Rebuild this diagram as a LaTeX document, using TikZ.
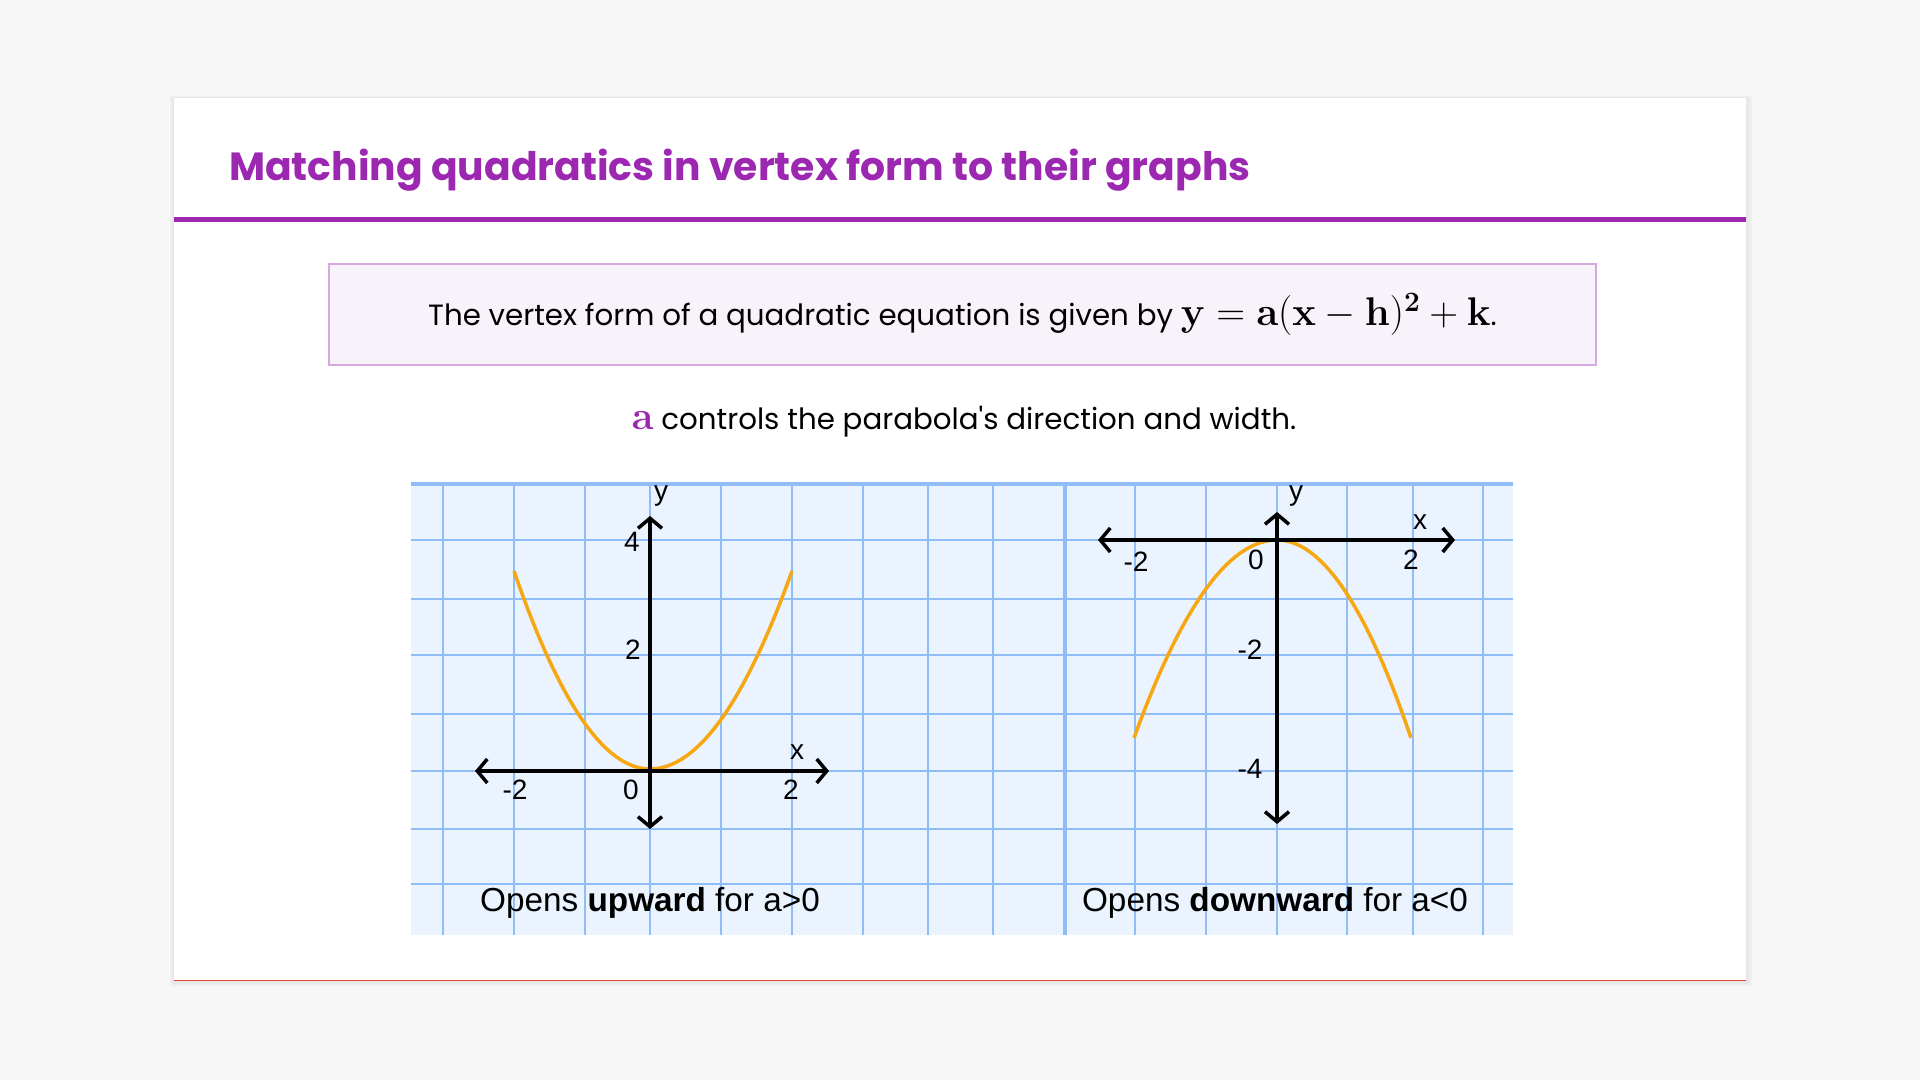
\RequirePackage{fix-cm}
\documentclass[tikz,border=0pt]{standalone}
\usepackage[no-math]{fontspec}
\usepackage[]{amsmath}
\usepackage[]{xcolor}
\usetikzlibrary{positioning}
\usetikzlibrary{arrows.meta}

\newfontfamily\popfont{Poppins}
\newfontfamily\graphfont{Liberation Sans}

\definecolor{pagegray}{HTML}{F7F7F7}
\definecolor{titlepurple}{HTML}{9C27B0}
\definecolor{boxfill}{HTML}{F8F3FA}
\definecolor{boxborder}{HTML}{D7A8E0}
\definecolor{gridfill}{HTML}{EAF3FE}
\definecolor{gridblue}{HTML}{90BDF5}
\definecolor{curveorange}{HTML}{F7A711}
\definecolor{cardred}{HTML}{E0483E}

\newcommand{\bigmath}[1]{{\fontsize{40}{44}\selectfont$#1$}}

\begin{document}
\begin{tikzpicture}[
        x=1pt, y=1pt,
        title/.style = {font=\popfont\bfseries\fontsize{39.3}{44}\selectfont, text=titlepurple, anchor=west, inner sep=0},
        body/.style = {font=\popfont\fontsize{29.3}{34}\selectfont, inner sep=0},
        vbox/.style = {body, draw=boxborder, fill=boxfill, line width=2.5pt, minimum width=1267pt, minimum height=101pt},
        gridline/.style = {draw=gridblue, line width=2.5pt},
        axis/.style = {line width=3.5pt, <->, >={Straight Barb[length=10pt,width=24pt]}},
        curve/.style = {draw=curveorange, line width=3.5pt},
        tick/.style = {font=\graphfont\fontsize{28}{30}\selectfont, inner sep=0},
        caption/.style = {font=\graphfont\fontsize{33.3}{36}\selectfont, inner sep=0}
    ]

        \useasboundingbox (0,0) rectangle (1920,1080);
        \fill[pagegray] (0,0) rectangle (1920,1080);

        % card
        \fill[black, opacity=0.03] (170,94) rectangle (1752,984);
        \fill[black, opacity=0.03] (172,96) rectangle (1749,983);
        \fill[white] (174,99) rectangle (1746,982);
        \draw[cardred, line width=1pt] (174,99.5) -- (1746,99.5);

        \node[title] (head) at (229,910) {Matching quadratics in vertex form to their graphs};
        \fill[titlepurple] (174,858) rectangle (1746,863);

        \node[vbox] (vform) at (962.5,765.5) {The vertex form of a quadratic equation is given by \bigmath{\mathbf{y}=\mathbf{a}(\mathbf{x}-\mathbf{h})^{\mathbf{2}}+\mathbf{k}}.};
        \node[body] (ctrl) at (964,658) {\bigmath{\color{titlepurple}\mathbf{a}} controls the parabola's direction and width.};

        % grid paper
        \fill[gridfill] (411,145) rectangle (1513,596);
        \foreach \gy in {540,481,425,366,309,251,196}
            \draw[gridline] (411,\gy) -- (1513,\gy);
        \foreach \gx in {443,514,585,650,721,792,863,928,993,1135,1206,1277,1347,1413,1483}
            \draw[gridline] (\gx,145) -- (\gx,596);
        \draw[gridline, line width=3.5pt] (1065,145) -- (1065,596);
        \draw[gridline, line width=4pt] (411,596) -- (1513,596);

        % upward graph
        \coordinate (xl1) at (475,309);
        \coordinate (xr1) at (829,309);
        \coordinate (yt1) at (650,564);
        \coordinate (yb1) at (650,251);
        \draw[curve] plot[domain=-1:1, samples=60] ({650+(\x<0 ? 136 : 142)*\x}, {311+198*\x*\x});
        \draw[axis] (xl1) -- (xr1);
        \draw[axis] (yb1) -- (yt1);
        \node[tick] (ylab1) at (661,584) {y};
        \node[tick] (xlab1) at (797,328) {x};
        \node[tick] (xm1) at (515,290) {-2};
        \node[tick] (o1) at (631,290) {0};
        \node[tick] (xp1) at (791,290) {2};
        \node[tick] (y41) at (632,538) {4};
        \node[tick] (y21) at (633,430) {2};
        \node[caption] (cap1) at (650,177) {Opens \textbf{upward} for a>0};

        % downward graph
        \coordinate (xl2) at (1098,540);
        \coordinate (xr2) at (1455,540);
        \coordinate (yt2) at (1277,568);
        \coordinate (yb2) at (1277,256);
        \draw[curve] plot[domain=-1:1, samples=60] ({1277+(\x<0 ? 143 : 134)*\x}, {540-198*\x*\x});
        \draw[axis] (xl2) -- (xr2);
        \draw[axis] (yb2) -- (yt2);
        \node[tick] (ylab2) at (1296,584) {y};
        \node[tick] (xlab2) at (1420,558) {x};
        \node[tick] (xm2) at (1136,518) {-2};
        \node[tick] (o2) at (1256,520) {0};
        \node[tick] (xp2) at (1411,520) {2};
        \node[tick] (ym22) at (1250,430) {-2};
        \node[tick] (ym42) at (1250,311) {-4};
        \node[caption] (cap2) at (1275,177) {Opens \textbf{downward} for a<0};

    \end{tikzpicture}
\end{document}
